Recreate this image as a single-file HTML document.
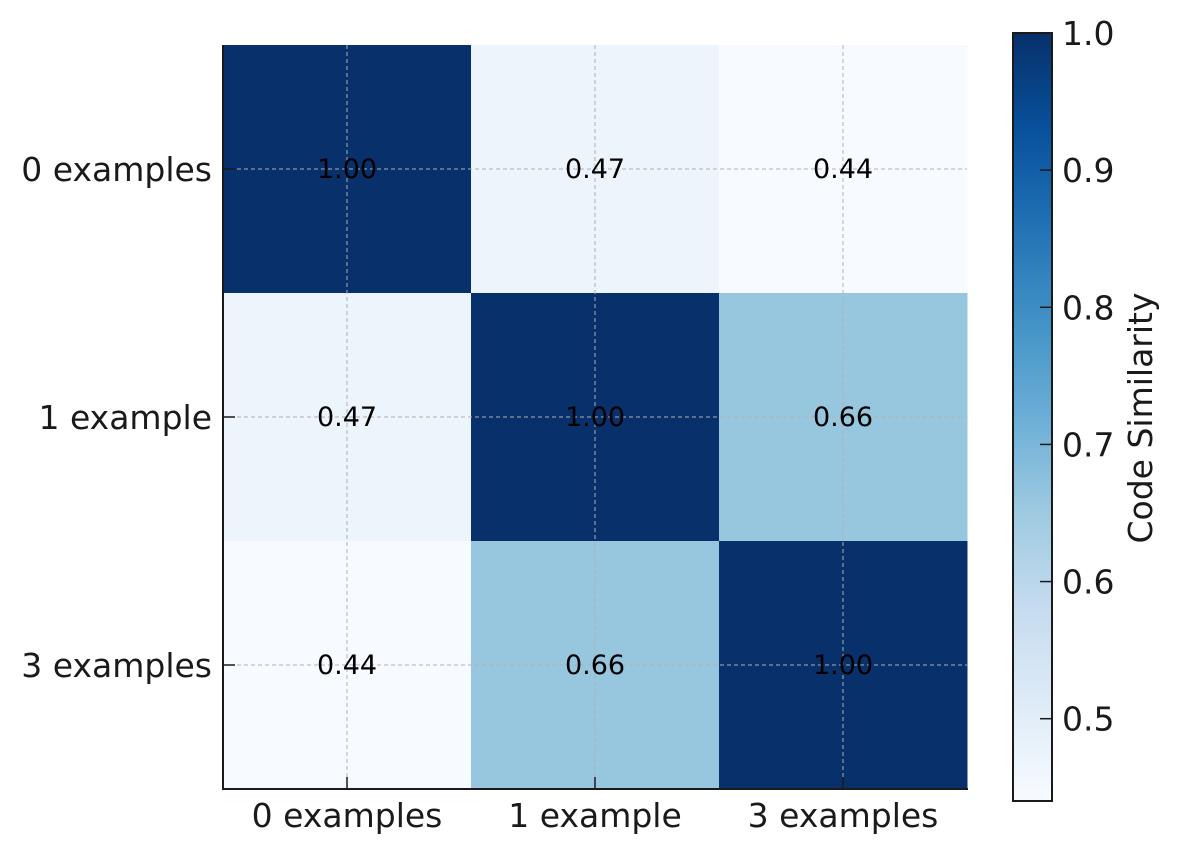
<!DOCTYPE html>
<html><head><meta charset="utf-8"><style>
body{margin:0;background:#fff}
svg text{font-family:"DejaVu Sans","Liberation Sans",sans-serif;fill:#1a1a1a}
</style></head><body>
<svg width="1178" height="852" xmlns="http://www.w3.org/2000/svg">
<defs>
<linearGradient id="blues" x1="0" y1="1" x2="0" y2="0">
<stop offset="0" stop-color="#f7fbff"/><stop offset="0.125" stop-color="#deebf7"/>
<stop offset="0.25" stop-color="#c6dbef"/><stop offset="0.375" stop-color="#9ecae1"/>
<stop offset="0.5" stop-color="#6baed6"/><stop offset="0.625" stop-color="#4292c6"/>
<stop offset="0.75" stop-color="#2171b5"/><stop offset="0.875" stop-color="#08519c"/>
<stop offset="1" stop-color="#08306b"/>
</linearGradient>
</defs>
<g id="cells"></g>
<g id="grid"></g>
<g id="labels"></g>
<line x1="223" y1="45" x2="223" y2="789" stroke="#1a1a1a" stroke-width="2"/>
<line x1="222" y1="789" x2="968" y2="789" stroke="#1a1a1a" stroke-width="2"/>
<rect x="1013" y="33" width="39" height="768" fill="url(#blues)" stroke="#1a1a1a" stroke-width="2"/>
<g id="cbticks"></g>
<text x="1152" y="418" font-size="33" text-anchor="middle" transform="rotate(-90 1152 418)">Code Similarity</text>
</svg>
<script>
const categories=["0 examples","1 example","3 examples"];
const matrix=[[1.00,0.47,0.44],[0.47,1.00,0.66],[0.44,0.66,1.00]];
const cbTicks=[0.5,0.6,0.7,0.8,0.9,1.0];
const vmin=0.44,vmax=1.0;
const NS="http://www.w3.org/2000/svg";
const X0=223,Y0=45,CS=248,CB_TOP=33,CB_BOT=801;
const stops=[[0,[247,251,255]],[0.125,[222,235,247]],[0.25,[198,219,239]],[0.375,[158,202,225]],[0.5,[107,174,214]],[0.625,[66,146,198]],[0.75,[33,113,181]],[0.875,[8,81,156]],[1,[8,48,107]]];
function color(v){let t=Math.max(0,Math.min(1,(v-vmin)/(vmax-vmin)));for(let i=1;i<stops.length;i++){if(t<=stops[i][0]){const a=stops[i-1],b=stops[i];const f=(t-a[0])/(b[0]-a[0]);return `rgb(${a[1].map((c,k)=>Math.round(c+(b[1][k]-c)*f)).join(',')})`;}}return 'rgb(8,48,107)';}
function el(tag,attrs,parent){const e=document.createElementNS(NS,tag);for(const k in attrs)e.setAttribute(k,attrs[k]);parent.appendChild(e);return e;}
const xPos=i=>X0+CS*i, yPos=i=>Y0+CS*i;
const cb=v=>CB_BOT-(v-vmin)/(vmax-vmin)*(CB_BOT-CB_TOP);
const cells=document.getElementById('cells'),grid=document.getElementById('grid'),labels=document.getElementById('labels'),cbt=document.getElementById('cbticks');
matrix.forEach((row,r)=>row.forEach((v,c)=>{
 const rc=el('rect',{x:xPos(c),y:yPos(r),width:CS+0.5,height:CS+0.5,fill:color(v)},cells);
 
 
 const t=el('text',{x:xPos(c)+CS/2,y:yPos(r)+CS/2+9,'font-size':'27','text-anchor':'middle'},labels);
 
 
 t.style.fill='#000';t.textContent=v.toFixed(2);
}));
categories.forEach((name,i)=>{
 const cx=xPos(i)+CS/2, cy=yPos(i)+CS/2;
 el('line',{x1:cx,y1:Y0,x2:cx,y2:789,stroke:'#b0b0b0','stroke-width':1,'stroke-dasharray':'4,3'},grid);
 el('line',{x1:X0,y1:cy,x2:967,y2:cy,stroke:'#b0b0b0','stroke-width':1,'stroke-dasharray':'4,3'},grid);
 el('line',{x1:cx,y1:777,x2:cx,y2:789,stroke:'#1a1a1a','stroke-width':1.5},grid);
 el('line',{x1:X0,y1:cy,x2:X0+12,y2:cy,stroke:'#1a1a1a','stroke-width':1.5},grid);
 const xl=el('text',{x:cx,y:827,'font-size':'33','text-anchor':'middle'},labels);
 
 
 xl.textContent=name;
 const yl=el('text',{x:212,y:cy+12,'font-size':'33','text-anchor':'end'},labels);
 
 
 yl.textContent=name;
});
cbTicks.forEach(v=>{
 const y=cb(v);
 el('line',{x1:1040,y1:y,x2:1052,y2:y,stroke:'#1a1a1a','stroke-width':1.5},cbt);
 const t=el('text',{x:1062,y:y+12,'font-size':'33'},cbt);
 
 
 t.textContent=v.toFixed(1);
});
</script>
</body></html>
